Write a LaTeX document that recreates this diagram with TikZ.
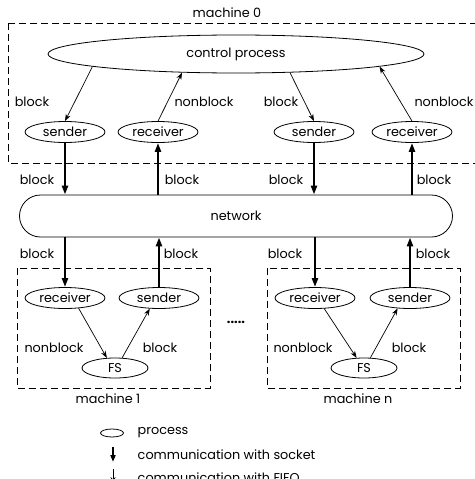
\documentclass[tikz,border=0pt]{standalone}
\usepackage{fontspec}
\setmainfont{Poppins}
\usetikzlibrary{arrows.meta, positioning, shapes.geometric, calc}
\tikzset{
  every picture/.style={font=\fontsize{12.8}{15}\selectfont, line width=0.8pt},
  proc/.style={draw, ellipse, inner sep=0pt, minimum width=#1, minimum height=21pt},
  proc/.default=80pt,
  sock/.style={-{Triangle[length=9pt, width=6pt]}, line width=2.2pt},
  fifo/.style={-{Stealth[length=7pt, width=5pt]}, line width=0.7pt},
  machine/.style={dash pattern=on 7pt off 4pt, line width=0.8pt},
  lbl/.style={inner sep=1pt},
}
\begin{document}
\begin{tikzpicture}[x=1pt, y=-1pt]
  \useasboundingbox (0,0) rectangle (474,479);
  % machine 0
  \draw[machine] (8,23) rectangle (482,163);
  \node (m0) at (227,13) {machine 0};
  \node[proc=376pt, minimum height=38pt] (ctrl) at (236,54) {control process};
  \node[proc] (snd1) at (65,132) {sender};
  \node[proc] (rcv1) at (158,132) {receiver};
  \node[proc] (snd2) at (314,132) {sender};
  \node[proc] (rcv2) at (412,132) {receiver};
  \draw[fifo] (ctrl.185) -- (snd1.north);
  \draw[fifo] (rcv1.north) -- (ctrl.199);
  \draw[fifo] (ctrl.341) -- (snd2.north);
  \draw[fifo] (rcv2.north) -- (ctrl.355);
  \node[lbl] (l1) at (32,102) {block};
  \node[lbl] (l2) at (204,102) {nonblock};
  \node[lbl] (l3) at (281,102) {block};
  \node[lbl] (l4) at (444,102) {nonblock};
  % network
  \node[draw, rounded corners=21pt, minimum width=433pt, minimum height=42pt] (net) at (236,216) {network};
  \draw[sock] (snd1.south) -- (snd1.south |- net.north);
  \draw[sock] (rcv1.south |- net.north) -- (rcv1.south);
  \draw[sock] (snd2.south) -- (snd2.south |- net.north);
  \draw[sock] (rcv2.south |- net.north) -- (rcv2.south);
  \node[lbl] (l5) at (37,180) {block};
  \node[lbl] (l6) at (182,180) {block};
  \node[lbl] (l7) at (286,180) {block};
  \node[lbl] (l8) at (434,180) {block};
  % machine 1 and machine n
  \draw[machine] (17,268) rectangle (210,388);
  \draw[machine] (267,268) rectangle (460,388);
  \node[proc] (rcv3) at (65,298) {receiver};
  \node[proc] (snd3) at (159,298) {sender};
  \node[proc=66pt, minimum height=20pt] (fs1) at (115,368) {FS};
  \node[proc] (rcv4) at (315,298) {receiver};
  \node[proc] (snd4) at (410,298) {sender};
  \node[proc=66pt, minimum height=20pt] (fs2) at (364,368) {FS};
  \draw[sock] (net.south -| rcv3.north) -- (rcv3.north);
  \draw[sock] (snd3.north) -- (net.south -| snd3.north);
  \draw[sock] (net.south -| rcv4.north) -- (rcv4.north);
  \draw[sock] (snd4.north) -- (net.south -| snd4.north);
  \node[lbl] (l9) at (37,254) {block};
  \node[lbl] (l10) at (181,254) {block};
  \node[lbl] (l11) at (285,254) {block};
  \node[lbl] (l12) at (433,254) {block};
  \draw[fifo] (rcv3.323) -- (fs1.129);
  \draw[fifo] (fs1.55) -- (snd3.229);
  \draw[fifo] (rcv4.311) -- (fs2.126);
  \draw[fifo] (fs2.58) -- (snd4.220);
  \node[lbl] (l13) at (54,348) {nonblock};
  \node[lbl] (l14) at (160,348) {block};
  \node[lbl] (l15) at (303,348) {nonblock};
  \node[lbl] (l16) at (409,348) {block};
  \node (m1) at (108,399) {machine 1};
  \node (mn) at (358,399) {machine n};
  \node (dots) at (236,322) {\textbf{.....}};
  % legend
  \node[proc=23pt, minimum height=8pt] (lgp) at (112,433) {};
  \node[anchor=west] (lgt1) at (134,433) {process};
  \coordinate (s1) at (113,447);
  \coordinate (s2) at (113,462);
  \draw[sock, line width=1.8pt, -{Triangle[length=7pt, width=5pt]}] (s1) -- (s2);
  \node[anchor=west] (lgt2) at (134,455) {communication with socket};
  \coordinate (f1) at (113,469);
  \coordinate (f2) at (113,484);
  \draw[fifo] (f1) -- (f2);
  \node[anchor=west] (lgt3) at (134,478) {communication with FIFO};
\end{tikzpicture}
\end{document}
